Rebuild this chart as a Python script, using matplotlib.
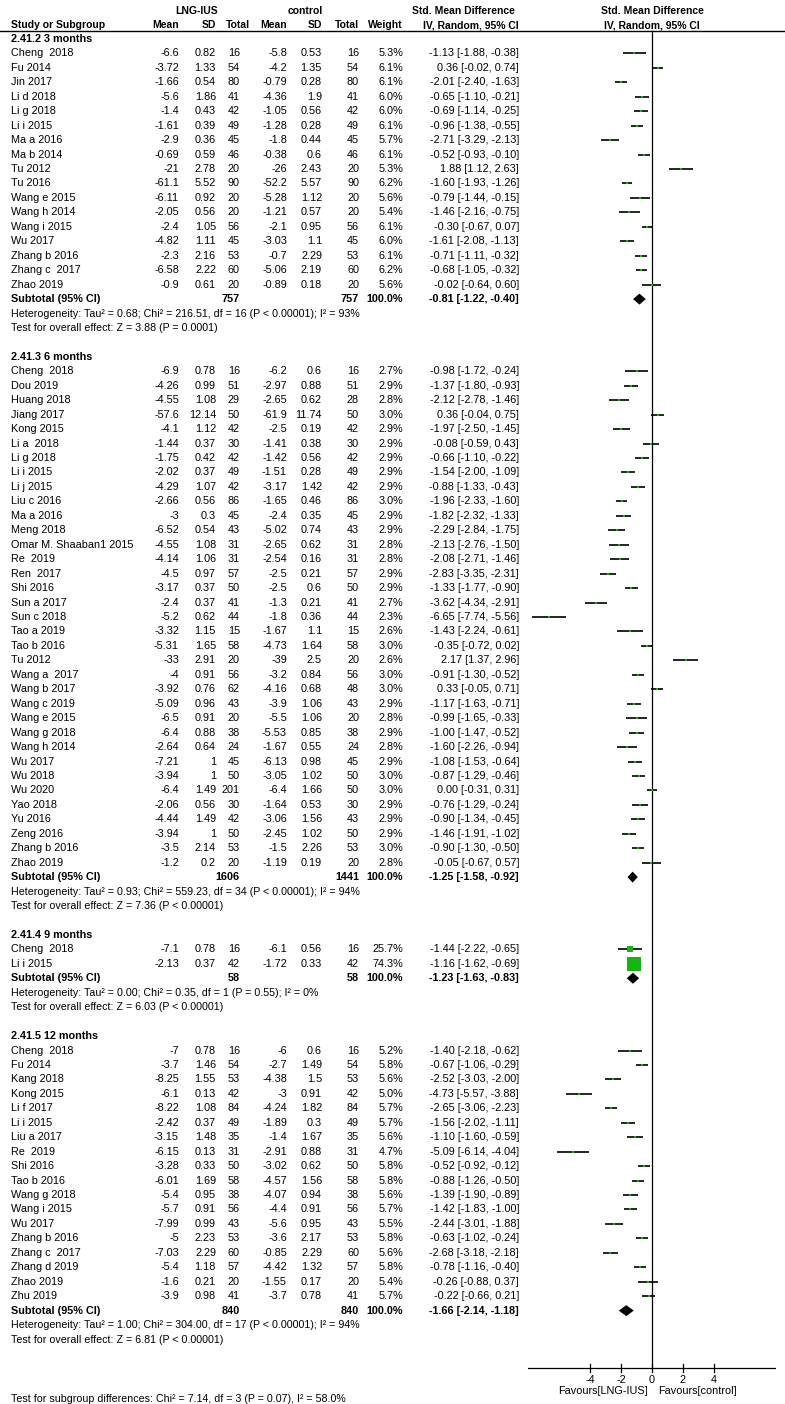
import matplotlib
matplotlib.use("Agg")
import matplotlib.pyplot as plt

plt.rcParams['font.family'] = ['Liberation Sans', 'DejaVu Sans']

# rows: study, mean1, sd1, n1, mean2, sd2, n2, weight %, smd, lower, upper
rows_3m = [
    ("Cheng  2018", -6.6, 0.82, 16, -5.8, 0.53, 16, 5.3, -1.13, -1.88, -0.38),
    ("Fu 2014", -3.72, 1.33, 54, -4.2, 1.35, 54, 6.1, 0.36, -0.02, 0.74),
    ("Jin 2017", -1.66, 0.54, 80, -0.79, 0.28, 80, 6.1, -2.01, -2.40, -1.63),
    ("Li d 2018", -5.6, 1.86, 41, -4.36, 1.9, 41, 6.0, -0.65, -1.10, -0.21),
    ("Li g 2018", -1.4, 0.43, 42, -1.05, 0.56, 42, 6.0, -0.69, -1.14, -0.25),
    ("Li i 2015", -1.61, 0.39, 49, -1.28, 0.28, 49, 6.1, -0.96, -1.38, -0.55),
    ("Ma a 2016", -2.9, 0.36, 45, -1.8, 0.44, 45, 5.7, -2.71, -3.29, -2.13),
    ("Ma b 2014", -0.69, 0.59, 46, -0.38, 0.6, 46, 6.1, -0.52, -0.93, -0.10),
    ("Tu 2012", -21, 2.78, 20, -26, 2.43, 20, 5.3, 1.88, 1.12, 2.63),
    ("Tu 2016", -61.1, 5.52, 90, -52.2, 5.57, 90, 6.2, -1.60, -1.93, -1.26),
    ("Wang e 2015", -6.11, 0.92, 20, -5.28, 1.12, 20, 5.6, -0.79, -1.44, -0.15),
    ("Wang h 2014", -2.05, 0.56, 20, -1.21, 0.57, 20, 5.4, -1.46, -2.16, -0.75),
    ("Wang i 2015", -2.4, 1.05, 56, -2.1, 0.95, 56, 6.1, -0.30, -0.67, 0.07),
    ("Wu 2017", -4.82, 1.11, 45, -3.03, 1.1, 45, 6.0, -1.61, -2.08, -1.13),
    ("Zhang b 2016", -2.3, 2.16, 53, -0.7, 2.29, 53, 6.1, -0.71, -1.11, -0.32),
    ("Zhang c  2017", -6.58, 2.22, 60, -5.06, 2.19, 60, 6.2, -0.68, -1.05, -0.32),
    ("Zhao 2019", -0.9, 0.61, 20, -0.89, 0.18, 20, 5.6, -0.02, -0.64, 0.60),
]

rows_6m = [
    ("Cheng  2018", -6.9, 0.78, 16, -6.2, 0.6, 16, 2.7, -0.98, -1.72, -0.24),
    ("Dou 2019", -4.26, 0.99, 51, -2.97, 0.88, 51, 2.9, -1.37, -1.80, -0.93),
    ("Huang 2018", -4.55, 1.08, 29, -2.65, 0.62, 28, 2.8, -2.12, -2.78, -1.46),
    ("Jiang 2017", -57.6, 12.14, 50, -61.9, 11.74, 50, 3.0, 0.36, -0.04, 0.75),
    ("Kong 2015", -4.1, 1.12, 42, -2.5, 0.19, 42, 2.9, -1.97, -2.50, -1.45),
    ("Li a  2018", -1.44, 0.37, 30, -1.41, 0.38, 30, 2.9, -0.08, -0.59, 0.43),
    ("Li g 2018", -1.75, 0.42, 42, -1.42, 0.56, 42, 2.9, -0.66, -1.10, -0.22),
    ("Li i 2015", -2.02, 0.37, 49, -1.51, 0.28, 49, 2.9, -1.54, -2.00, -1.09),
    ("Li j 2015", -4.29, 1.07, 42, -3.17, 1.42, 42, 2.9, -0.88, -1.33, -0.43),
    ("Liu c 2016", -2.66, 0.56, 86, -1.65, 0.46, 86, 3.0, -1.96, -2.33, -1.60),
    ("Ma a 2016", -3, 0.3, 45, -2.4, 0.35, 45, 2.9, -1.82, -2.32, -1.33),
    ("Meng 2018", -6.52, 0.54, 43, -5.02, 0.74, 43, 2.9, -2.29, -2.84, -1.75),
    ("Omar M. Shaaban1 2015", -4.55, 1.08, 31, -2.65, 0.62, 31, 2.8, -2.13, -2.76, -1.50),
    ("Re  2019", -4.14, 1.06, 31, -2.54, 0.16, 31, 2.8, -2.08, -2.71, -1.46),
    ("Ren  2017", -4.5, 0.97, 57, -2.5, 0.21, 57, 2.9, -2.83, -3.35, -2.31),
    ("Shi 2016", -3.17, 0.37, 50, -2.5, 0.6, 50, 2.9, -1.33, -1.77, -0.90),
    ("Sun a 2017", -2.4, 0.37, 41, -1.3, 0.21, 41, 2.7, -3.62, -4.34, -2.91),
    ("Sun c 2018", -5.2, 0.62, 44, -1.8, 0.36, 44, 2.3, -6.65, -7.74, -5.56),
    ("Tao a 2019", -3.32, 1.15, 15, -1.67, 1.1, 15, 2.6, -1.43, -2.24, -0.61),
    ("Tao b 2016", -5.31, 1.65, 58, -4.73, 1.64, 58, 3.0, -0.35, -0.72, 0.02),
    ("Tu 2012", -33, 2.91, 20, -39, 2.5, 20, 2.6, 2.17, 1.37, 2.96),
    ("Wang a  2017", -4, 0.91, 56, -3.2, 0.84, 56, 3.0, -0.91, -1.30, -0.52),
    ("Wang b 2017", -3.92, 0.76, 62, -4.16, 0.68, 48, 3.0, 0.33, -0.05, 0.71),
    ("Wang c 2019", -5.09, 0.96, 43, -3.9, 1.06, 43, 2.9, -1.17, -1.63, -0.71),
    ("Wang e 2015", -6.5, 0.91, 20, -5.5, 1.06, 20, 2.8, -0.99, -1.65, -0.33),
    ("Wang g 2018", -6.4, 0.88, 38, -5.53, 0.85, 38, 2.9, -1.00, -1.47, -0.52),
    ("Wang h 2014", -2.64, 0.64, 24, -1.67, 0.55, 24, 2.8, -1.60, -2.26, -0.94),
    ("Wu 2017", -7.21, 1, 45, -6.13, 0.98, 45, 2.9, -1.08, -1.53, -0.64),
    ("Wu 2018", -3.94, 1, 50, -3.05, 1.02, 50, 3.0, -0.87, -1.29, -0.46),
    ("Wu 2020", -6.4, 1.49, 201, -6.4, 1.66, 50, 3.0, 0.00, -0.31, 0.31),
    ("Yao 2018", -2.06, 0.56, 30, -1.64, 0.53, 30, 2.9, -0.76, -1.29, -0.24),
    ("Yu 2016", -4.44, 1.49, 42, -3.06, 1.56, 43, 2.9, -0.90, -1.34, -0.45),
    ("Zeng 2016", -3.94, 1, 50, -2.45, 1.02, 50, 2.9, -1.46, -1.91, -1.02),
    ("Zhang b 2016", -3.5, 2.14, 53, -1.5, 2.26, 53, 3.0, -0.90, -1.30, -0.50),
    ("Zhao 2019", -1.2, 0.2, 20, -1.19, 0.19, 20, 2.8, -0.05, -0.67, 0.57),
]

rows_9m = [
    ("Cheng  2018", -7.1, 0.78, 16, -6.1, 0.56, 16, 25.7, -1.44, -2.22, -0.65),
    ("Li i 2015", -2.13, 0.37, 42, -1.72, 0.33, 42, 74.3, -1.16, -1.62, -0.69),
]

rows_12m = [
    ("Cheng  2018", -7, 0.78, 16, -6, 0.6, 16, 5.2, -1.40, -2.18, -0.62),
    ("Fu 2014", -3.7, 1.46, 54, -2.7, 1.49, 54, 5.8, -0.67, -1.06, -0.29),
    ("Kang 2018", -8.25, 1.55, 53, -4.38, 1.5, 53, 5.6, -2.52, -3.03, -2.00),
    ("Kong 2015", -6.1, 0.13, 42, -3, 0.91, 42, 5.0, -4.73, -5.57, -3.88),
    ("Li f 2017", -8.22, 1.08, 84, -4.24, 1.82, 84, 5.7, -2.65, -3.06, -2.23),
    ("Li i 2015", -2.42, 0.37, 49, -1.89, 0.3, 49, 5.7, -1.56, -2.02, -1.11),
    ("Liu a 2017", -3.15, 1.48, 35, -1.4, 1.67, 35, 5.6, -1.10, -1.60, -0.59),
    ("Re  2019", -6.15, 0.13, 31, -2.91, 0.88, 31, 4.7, -5.09, -6.14, -4.04),
    ("Shi 2016", -3.28, 0.33, 50, -3.02, 0.62, 50, 5.8, -0.52, -0.92, -0.12),
    ("Tao b 2016", -6.01, 1.69, 58, -4.57, 1.56, 58, 5.8, -0.88, -1.26, -0.50),
    ("Wang g 2018", -5.4, 0.95, 38, -4.07, 0.94, 38, 5.6, -1.39, -1.90, -0.89),
    ("Wang i 2015", -5.7, 0.91, 56, -4.4, 0.91, 56, 5.7, -1.42, -1.83, -1.00),
    ("Wu 2017", -7.99, 0.99, 43, -5.6, 0.95, 43, 5.5, -2.44, -3.01, -1.88),
    ("Zhang b 2016", -5, 2.23, 53, -3.6, 2.17, 53, 5.8, -0.63, -1.02, -0.24),
    ("Zhang c  2017", -7.03, 2.29, 60, -0.85, 2.29, 60, 5.6, -2.68, -3.18, -2.18),
    ("Zhang d 2019", -5.4, 1.18, 57, -4.42, 1.32, 57, 5.8, -0.78, -1.16, -0.40),
    ("Zhao 2019", -1.6, 0.21, 20, -1.55, 0.17, 20, 5.4, -0.26, -0.88, 0.37),
    ("Zhu 2019", -3.9, 0.98, 41, -3.7, 0.78, 41, 5.7, -0.22, -0.66, 0.21),
]

group_titles = ["2.41.2 3 months", "2.41.3 6 months", "2.41.4 9 months", "2.41.5 12 months"]
group_rows = [rows_3m, rows_6m, rows_9m, rows_12m]
# subtotal: total1, total2, smd, lower, upper
subtotals = [
    (757, 757, -0.81, -1.22, -0.40),
    (1606, 1441, -1.25, -1.58, -0.92),
    (58, 58, -1.23, -1.63, -0.83),
    (840, 840, -1.66, -2.14, -1.18),
]
heterogeneity = [
    "Heterogeneity: Tau\u00b2 = 0.68; Chi\u00b2 = 216.51, df = 16 (P < 0.00001); I\u00b2 = 93%",
    "Heterogeneity: Tau\u00b2 = 0.93; Chi\u00b2 = 559.23, df = 34 (P < 0.00001); I\u00b2 = 94%",
    "Heterogeneity: Tau\u00b2 = 0.00; Chi\u00b2 = 0.35, df = 1 (P = 0.55); I\u00b2 = 0%",
    "Heterogeneity: Tau\u00b2 = 1.00; Chi\u00b2 = 304.00, df = 17 (P < 0.00001); I\u00b2 = 94%",
]
overall = [
    "Test for overall effect: Z = 3.88 (P = 0.0001)",
    "Test for overall effect: Z = 7.36 (P < 0.00001)",
    "Test for overall effect: Z = 6.03 (P < 0.00001)",
    "Test for overall effect: Z = 6.81 (P < 0.00001)",
]
subgroup_test = "Test for subgroup differences: Chi\u00b2 = 7.14, df = 3 (P = 0.07), I\u00b2 = 58.0%"
axis_ticks = [-4, -2, 0, 2, 4]
axis_lim = (-8, 8)

# layout (pixels)
W, H = 785, 1404
step = 14.45
col_x = [179, 216, 240, 287, 322, 359, 403, 519]
fs = 7.8
fs_head = 7.5
fs_note = 7.7
green = '#14b414'

fig = plt.figure(figsize=(W / 100, H / 100), dpi=100)
ax = fig.add_axes([0, 0, 1, 1])
ax.set_xlim(0, W)
ax.set_ylim(H, 0)
ax.axis('off')

x0, x1 = 528, 776
fa = fig.add_axes([x0 / W, 0, (x1 - x0) / W, 1])
fa.set_xlim(*axis_lim)
fa.set_ylim(H, 0)
fa.axis('off')

# header
hb = dict(fontsize=fs_head, fontweight='bold', va='center')
ax.text(197, 11, "LNG-IUS", ha='center', **hb)
ax.text(305, 11, "control", ha='center', **hb)
ax.text(463, 11, "Std. Mean Difference", ha='center', **hb)
ax.text(11, 25, "Study or Subgroup", ha='left', **hb)
head_labels = ["Mean", "SD", "Total", "Mean", "SD", "Total", "Weight", "IV, Random, 95% CI"]
for i, (x, lab) in enumerate(zip(col_x, head_labels)):
    ax.text(x + (10 if i == 2 else 0), 25, lab, ha='right', **hb)
fa.text(0, 11, "Std. Mean Difference", ha='center', **hb)
fa.text(0, 25, "IV, Random, 95% CI", ha='center', **hb)
ax.plot([0, W], [31, 31], color='black', lw=1.0)

sb = dict(fontsize=fs, fontweight='bold', va='center')
y = 39
for title, rows, sub, het, ov in zip(group_titles, group_rows, subtotals, heterogeneity, overall):
    ax.text(11, y, title, ha='left', **sb)
    y += step
    for r in rows:
        vals = ["{:g}".format(r[1]), "{:g}".format(r[2]), str(r[3]),
                "{:g}".format(r[4]), "{:g}".format(r[5]), str(r[6]),
                "{:.1f}%".format(r[7]),
                "{:.2f} [{:.2f}, {:.2f}]".format(r[8], r[9], r[10])]
        ax.text(11, y, r[0], ha='left', va='center', fontsize=fs)
        for x, v in zip(col_x, vals):
            ax.text(x, y, v, ha='right', va='center', fontsize=fs)
        fa.plot([r[9], r[10]], [y, y], color='black', lw=1.2, solid_capstyle='butt')
        side = 1.5 + 0.155 * r[7]
        fa.scatter([r[8]], [y], marker='s', s=(side * 0.72) ** 2, color=green,
                   linewidths=0, zorder=3)
        y += step
    # subtotal row
    ax.text(11, y, "Subtotal (95% CI)", ha='left', **sb)
    ax.text(col_x[2], y, str(sub[0]), ha='right', **sb)
    ax.text(col_x[5], y, str(sub[1]), ha='right', **sb)
    ax.text(col_x[6], y, "100.0%", ha='right', **sb)
    ax.text(col_x[7], y, "{:.2f} [{:.2f}, {:.2f}]".format(sub[2], sub[3], sub[4]), ha='right', **sb)
    fa.fill([sub[3], sub[2], sub[4], sub[2]], [y, y - 5.5, y, y + 5.5], color='black', lw=0)
    y += step
    ax.text(11, y, het, ha='left', va='center', fontsize=fs_note)
    y += step
    ax.text(11, y, ov, ha='left', va='center', fontsize=fs_note)
    y += 2 * step

# axis of the forest plot
ya = 1368
fa.plot([0, 0], [31, ya], color='black', lw=0.9)
fa.plot(list(axis_lim), [ya, ya], color='black', lw=0.9)
for t in axis_ticks:
    fa.plot([t, t], [ya - 4, ya + 4], color='black', lw=0.9)
    fa.text(t, ya + 12, "{:d}".format(t), ha='center', va='center', fontsize=fs)
fa.text(-0.3, ya + 23, "Favours[LNG-IUS]", ha='right', va='center', fontsize=fs)
fa.text(0.4, ya + 23, "Favours[control]", ha='left', va='center', fontsize=fs)

ax.text(11, 1399, subgroup_test, ha='left', va='center', fontsize=fs_note)

fig.savefig("out.png", dpi=100, facecolor='white')
